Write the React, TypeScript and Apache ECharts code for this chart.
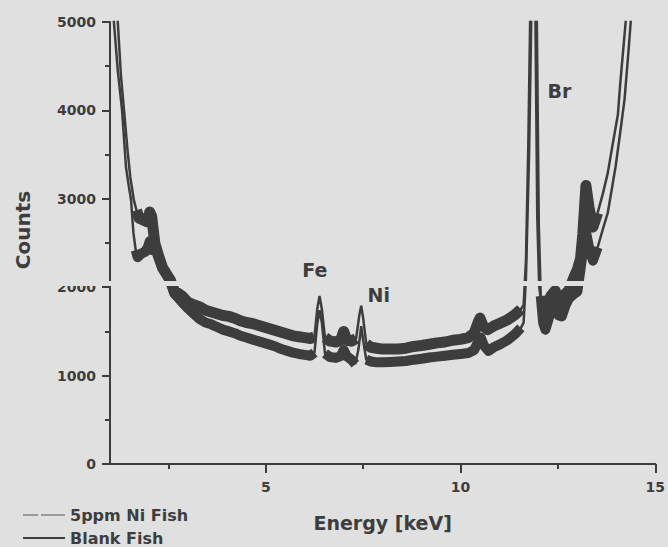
import React, { useEffect, useRef } from 'react';
import * as echarts from 'echarts';

// ---- data ----
const niFishEnergy = [
  1.0, 1.1, 1.2, 1.28, 1.36, 1.45, 1.52, 1.61, 1.68, 1.75, 1.85, 1.95, 2.02, 2.07, 2.15, 2.25, 2.35, 2.45, 2.55, 2.65,
  2.75, 2.85, 3.0, 3.15, 3.3, 3.45, 3.6, 3.75, 3.9, 4.05, 4.2, 4.35, 4.5, 4.65, 4.8, 4.95, 5.1, 5.25, 5.4, 5.55,
  5.7, 5.85, 6.0, 6.15, 6.25, 6.32, 6.38, 6.44, 6.52, 6.65, 6.8, 6.92, 7.0, 7.08, 7.2, 7.32, 7.4, 7.45, 7.5, 7.58,
  7.7, 7.85, 8.0, 8.2, 8.4, 8.6, 8.8, 9.0, 9.2, 9.4, 9.6, 9.8, 10.0, 10.2, 10.35, 10.45, 10.5, 10.58, 10.7, 10.85,
  11.0, 11.2, 11.4, 11.55, 11.62, 11.68, 11.74, 11.8, 11.86, 11.92, 11.97, 12.02, 12.08, 12.2, 12.32, 12.43, 12.52, 12.6, 12.7, 12.78,
  12.9, 13.0, 13.08, 13.14, 13.22, 13.3, 13.4, 13.52, 13.65, 13.78, 13.9, 13.96, 14.04, 14.1, 14.18, 14.24, 14.35, 14.5,
];
const niFishCounts = [
  7500, 6000, 5000, 4400, 4000, 3550, 3250, 2990, 2870, 2780, 2760, 2740, 2850, 2800, 2500, 2350, 2220, 2150, 2080, 1960,
  1930, 1900, 1830, 1800, 1780, 1740, 1720, 1700, 1680, 1670, 1650, 1620, 1600, 1590, 1570, 1550, 1530, 1510, 1490, 1470,
  1450, 1440, 1430, 1420, 1440, 1750, 1900, 1750, 1430, 1390, 1380, 1400, 1500, 1400, 1390, 1420, 1680, 1790, 1650, 1360,
  1320, 1310, 1300, 1300, 1300, 1310, 1330, 1340, 1355, 1370, 1380, 1400, 1410, 1430, 1480, 1600, 1650, 1560, 1520, 1560,
  1590, 1630, 1690, 1750, 1800, 2300, 3600, 5400, 8000, 5200, 2800, 2000, 1800, 1790, 1900, 1960, 1850, 1840, 1930, 1960,
  2100, 2200, 2320, 2600, 3150, 2900, 2680, 2840, 3050, 3290, 3600, 3750, 3950, 4300, 4700, 5000, 5800, 7000,
];

const blankEnergy = [
  1.0, 1.05, 1.1, 1.2, 1.31, 1.41, 1.48, 1.54, 1.6, 1.66, 1.71, 1.8, 1.9, 1.97, 2.02, 2.08, 2.15, 2.25, 2.35, 2.45,
  2.55, 2.65, 2.75, 2.85, 3.0, 3.15, 3.3, 3.45, 3.6, 3.75, 3.9, 4.05, 4.2, 4.35, 4.5, 4.65, 4.8, 4.95, 5.1, 5.25,
  5.4, 5.55, 5.7, 5.85, 6.0, 6.15, 6.25, 6.32, 6.38, 6.44, 6.52, 6.65, 6.8, 6.92, 7.0, 7.08, 7.2, 7.3, 7.38, 7.45,
  7.5, 7.58, 7.7, 7.85, 8.0, 8.2, 8.4, 8.6, 8.8, 9.0, 9.2, 9.4, 9.6, 9.8, 10.0, 10.2, 10.35, 10.45, 10.52, 10.6,
  10.72, 10.85, 11.0, 11.2, 11.4, 11.55, 11.62, 11.68, 11.76, 11.83, 11.9, 11.96, 12.01, 12.06, 12.12, 12.18, 12.3, 12.43, 12.52, 12.6,
  12.7, 12.78, 12.9, 13.0, 13.08, 13.14, 13.22, 13.3, 13.4, 13.52, 13.65, 13.78, 13.9, 13.98, 14.1, 14.21, 14.3, 14.37, 14.5, 14.6,
];
const blankCounts = [
  7000, 5500, 5000, 4450, 4000, 3360, 3150, 2990, 2620, 2420, 2340, 2380, 2400, 2450, 2520, 2420, 2450, 2330, 2210, 2140,
  2060, 1930, 1880, 1830, 1760, 1700, 1640, 1600, 1580, 1550, 1520, 1500, 1480, 1450, 1430, 1410, 1390, 1370, 1350, 1330,
  1300, 1280, 1260, 1245, 1235, 1225, 1260, 1580, 1740, 1600, 1250, 1210, 1200, 1220, 1290, 1220, 1180, 1130, 1300, 1560,
  1400, 1180, 1160, 1150, 1150, 1155, 1160, 1165, 1180, 1190, 1205, 1215, 1225, 1235, 1245, 1255, 1290, 1380, 1430, 1340,
  1280, 1320, 1350, 1400, 1470, 1540, 1600, 2100, 3500, 5400, 8000, 5000, 2700, 1900, 1600, 1520, 1700, 1780, 1680, 1670,
  1800, 1870, 1920, 1950, 2200, 2400, 2630, 2450, 2300, 2450, 2650, 2840, 3150, 3360, 3750, 4120, 4600, 5000, 6000, 6800,
];

const seriesNames = ['5ppm Ni Fish', 'Blank Fish'];
const xMajorTicks = [5, 10, 15];
const xMinorTicks = [2.5, 7.5, 12.5];
const peakLabels = ['Fe', 'Ni', 'Br'];
const peakLabelEnergy = [6.26, 7.9, 12.54];
const peakLabelCounts = [2190, 1907, 4221];
// energy ranges in which the spectra are drawn as noisy (thick) bands
const noisyRanges = [
  [1.62, 6.26],
  [6.5, 7.33],
  [7.56, 11.6],
  [12.06, 13.6],
];

const INK = '#3d3d3d';
const BG = '#e0e0e0';
const FONT = '"DejaVu Sans", sans-serif';

function pairs(e: number[], c: number[]) {
  return e.map((x, i) => [x, c[i]]);
}
function band(e: number[], c: number[]) {
  return e.map((x, i) => (noisyRanges.some(([a, b]) => x >= a && x <= b) ? [x, c[i]] : [x, '-']));
}

export default function App() {
  const ref = useRef<HTMLDivElement>(null);
  useEffect(() => {
    if (!ref.current) return;
    const chart = echarts.init(ref.current, undefined, { renderer: 'svg' });
    const tickLine = { color: INK, width: 2 };
    const labelFont = { fontFamily: FONT, fontWeight: 'bold' as const, fontSize: 14, color: INK };
    const lineBase = { type: 'line', symbol: 'none', showSymbol: false, silent: true, clip: true, color: INK };
    chart.setOption({
      animation: false,
      backgroundColor: BG,
      grid: { left: 110, right: 12, top: 22, bottom: 83 },
      xAxis: [
        {
          type: 'value',
          min: 1,
          max: 15,
          name: 'Energy [keV]',
          nameLocation: 'middle',
          nameGap: 49,
          nameTextStyle: { fontFamily: FONT, fontWeight: 'bold', fontSize: 19, color: INK },
          axisLine: { show: true, onZero: false, lineStyle: tickLine },
          axisTick: { show: true, customValues: xMajorTicks, length: 9, lineStyle: tickLine },
          axisLabel: { customValues: xMajorTicks, margin: 16, ...labelFont },
          splitLine: { show: false },
        },
        {
          type: 'value',
          min: 1,
          max: 15,
          position: 'bottom',
          axisLine: { show: false },
          axisTick: { show: true, customValues: xMinorTicks, length: 5, lineStyle: tickLine },
          axisLabel: { show: false },
          splitLine: { show: false },
        },
      ],
      yAxis: {
        type: 'value',
        min: 0,
        max: 5000,
        interval: 1000,
        axisLine: { show: true, lineStyle: tickLine },
        axisTick: { show: true, length: 8, lineStyle: tickLine },
        minorTick: { show: true, splitNumber: 2, length: 5, lineStyle: tickLine },
        axisLabel: { margin: 14, formatter: (v: number) => String(v), ...labelFont },
        splitLine: { show: false },
      },
      legend: {
        orient: 'vertical',
        left: 23,
        top: 507,
        padding: 0,
        itemWidth: 42,
        itemHeight: 2,
        itemGap: 7,
        data: [
          {
            name: seriesNames[0],
            icon: 'path://M0,0H15V1H0Z M18,0H42V1H18Z',
            itemStyle: { color: '#555' },
          },
          { name: seriesNames[1], icon: 'rect', itemStyle: { color: INK } },
        ],
        textStyle: { fontFamily: FONT, fontWeight: 'bold', fontSize: 16, color: INK, lineHeight: 16 },
      },
      graphic: [
        {
          type: 'text',
          x: 23,
          y: 230,
          rotation: Math.PI / 2,
          style: {
            text: 'Counts',
            fill: INK,
            font: 'bold 20px "DejaVu Sans", sans-serif',
            align: 'center',
            verticalAlign: 'middle',
          },
        },
        {
          type: 'rect',
          x: 0,
          y: 281,
          z: 100,
          shape: { x: 0, y: 0, width: 668, height: 5 },
          style: { fill: BG },
        },
      ],
      series: [
        { ...lineBase, name: seriesNames[0], data: pairs(niFishEnergy, niFishCounts), lineStyle: { color: INK, width: 2.5 } },
        { ...lineBase, name: seriesNames[1], data: pairs(blankEnergy, blankCounts), lineStyle: { color: INK, width: 2.5 } },
        { ...lineBase, name: 'niBand', data: band(niFishEnergy, niFishCounts), lineStyle: { color: INK, width: 11, join: 'round' } },
        { ...lineBase, name: 'blankBand', data: band(blankEnergy, blankCounts), lineStyle: { color: INK, width: 10, join: 'round' } },
        {
          type: 'scatter',
          name: 'peaks',
          silent: true,
          symbol: 'circle',
          symbolSize: 0,
          itemStyle: { color: INK, opacity: 1 },
          data: peakLabels.map((n, i) => ({ name: n, value: [peakLabelEnergy[i], peakLabelCounts[i]] })),
          label: {
            show: true,
            position: 'inside',
            formatter: '{b}',
            fontFamily: FONT,
            fontWeight: 'bold',
            fontSize: 19,
            color: INK,
            textBorderWidth: 0,
          },
        },
      ],
    });
    return () => chart.dispose();
  }, []);
  return <div ref={ref} style={{ position: 'fixed', left: 0, top: 0, width: 668, height: 547 }} />;
}
